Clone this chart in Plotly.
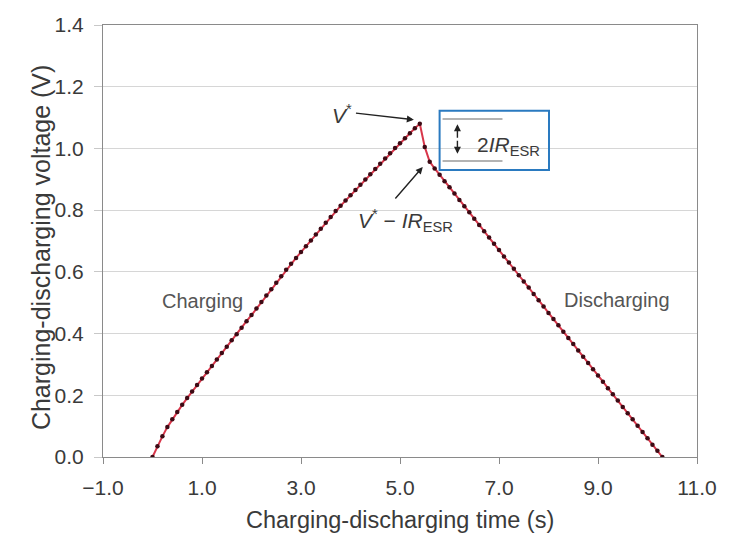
import plotly.graph_objects as go

# time (s), 0.1 s sampling
time_s = [0.0, 0.1, 0.2, 0.3, 0.4, 0.5, 0.6, 0.7, 0.8, 0.9,
          1.0, 1.1, 1.2, 1.3, 1.4, 1.5, 1.6, 1.7, 1.8, 1.9,
          2.0, 2.1, 2.2, 2.3, 2.4, 2.5, 2.6, 2.7, 2.8, 2.9,
          3.0, 3.1, 3.2, 3.3, 3.4, 3.5, 3.6, 3.7, 3.8, 3.9,
          4.0, 4.1, 4.2, 4.3, 4.4, 4.5, 4.6, 4.7, 4.8, 4.9,
          5.0, 5.1, 5.2, 5.3, 5.4, 5.5, 5.6, 5.7, 5.8, 5.9,
          6.0, 6.1, 6.2, 6.3, 6.4, 6.5, 6.6, 6.7, 6.8, 6.9,
          7.0, 7.1, 7.2, 7.3, 7.4, 7.5, 7.6, 7.7, 7.8, 7.9,
          8.0, 8.1, 8.2, 8.3, 8.4, 8.5, 8.6, 8.7, 8.8, 8.9,
          9.0, 9.1, 9.2, 9.3, 9.4, 9.5, 9.6, 9.7, 9.8, 9.9,
          10.0, 10.1, 10.2, 10.3]

# voltage (V)
voltage_v = [0.000, 0.035, 0.067, 0.097, 0.122, 0.146, 0.169, 0.191, 0.212, 0.233,
             0.254, 0.275, 0.295, 0.316, 0.337, 0.357, 0.378, 0.398, 0.419, 0.440,
             0.460, 0.481, 0.502, 0.523, 0.544, 0.565, 0.586, 0.607, 0.626, 0.645,
             0.664, 0.683, 0.702, 0.721, 0.740, 0.759, 0.778, 0.797, 0.814, 0.831,
             0.848, 0.865, 0.882, 0.899, 0.916, 0.933, 0.950, 0.967, 0.984, 1.001,
             1.017, 1.033, 1.049, 1.065, 1.080, 1.005, 0.957, 0.935, 0.915, 0.894,
             0.874, 0.854, 0.833, 0.813, 0.793, 0.772, 0.752, 0.732, 0.711, 0.691,
             0.671, 0.650, 0.630, 0.610, 0.589, 0.569, 0.549, 0.528, 0.508, 0.488,
             0.467, 0.447, 0.427, 0.406, 0.386, 0.366, 0.345, 0.325, 0.305, 0.284,
             0.264, 0.244, 0.223, 0.203, 0.183, 0.162, 0.142, 0.122, 0.101, 0.081,
             0.061, 0.040, 0.020, 0.000]

x_ticks = [-1.0, 1.0, 3.0, 5.0, 7.0, 9.0, 11.0]
y_ticks = [0.0, 0.2, 0.4, 0.6, 0.8, 1.0, 1.2, 1.4]

FONT = "Liberation Sans, Arial, sans-serif"
TXT = "#3a3a3a"
AX = "#8a8a8a"

fig = go.Figure()
fig.add_trace(go.Scatter(
    x=time_s, y=voltage_v, mode="lines+markers",
    line=dict(color="#d8364a", width=2),
    marker=dict(color="#3d0a14", size=4.5, symbol="circle"),
    showlegend=False, hoverinfo="skip"))

# annotation box and its contents
fig.add_shape(type="rect", x0=5.80, x1=8.01, y0=0.930, y1=1.122,
              line=dict(color="#2a7ac0", width=2), fillcolor="rgba(0,0,0,0)")
fig.add_shape(type="line", x0=5.86, x1=7.07, y0=1.095, y1=1.095,
              line=dict(color="#9a9a9a", width=1.5))
fig.add_shape(type="line", x0=5.86, x1=7.07, y0=0.959, y1=0.959,
              line=dict(color="#9a9a9a", width=1.5))

annots = [
    dict(x=7.19, y=1.008, text="2<i>IR</i><sub>ESR</sub>", showarrow=False,
         font=dict(size=21, color=TXT, family=FONT)),
    # double-headed vertical arrow
    dict(x=6.16, y=1.078, ax=6.16, ay=1.030, xref="x", yref="y", axref="x", ayref="y",
         text="", showarrow=True, arrowhead=2, arrowsize=1, arrowwidth=1.4, arrowcolor="#222"),
    dict(x=6.16, y=0.983, ax=6.16, ay=1.030, xref="x", yref="y", axref="x", ayref="y",
         text="", showarrow=True, arrowhead=2, arrowsize=1, arrowwidth=1.4, arrowcolor="#222"),
    dict(x=3.82, y=1.112, text="<i>V</i><sup>*</sup>", showarrow=False,
         font=dict(size=21, color=TXT, family=FONT)),
    dict(x=5.28, y=1.093, ax=4.08, ay=1.115, xref="x", yref="y", axref="x", ayref="y",
         text="", showarrow=True, arrowhead=2, arrowsize=1, arrowwidth=1.4, arrowcolor="#222"),
    dict(x=5.12, y=0.768, text="<i>V</i><sup>*</sup> \u2212 <i>IR</i><sub>ESR</sub>", showarrow=False,
         font=dict(size=21, color=TXT, family=FONT)),
    dict(x=5.46, y=0.940, ax=4.88, ay=0.833, xref="x", yref="y", axref="x", ayref="y",
         text="", showarrow=True, arrowhead=2, arrowsize=1, arrowwidth=1.4, arrowcolor="#222"),
    dict(x=1.01, y=0.505, text="Charging", showarrow=False,
         font=dict(size=20, color="#555", family=FONT)),
    dict(x=9.38, y=0.509, text="Discharging", showarrow=False,
         font=dict(size=20, color="#555", family=FONT)),
    dict(x=0.5, y=-0.146, xref="paper", yref="paper", text="Charging-discharging time (s)",
         showarrow=False, font=dict(size=23.5, color=TXT, family=FONT), yanchor="middle"),
    dict(x=-0.131, y=0.484, xref="paper", yref="paper", text="Charging-discharging voltage (V)",
         showarrow=False, textangle=-90, font=dict(size=25, color=TXT, family=FONT)),
]
for a in annots:
    fig.add_annotation(**a)

fig.update_layout(
    width=729, height=533,
    margin=dict(l=103, r=24, t=25, b=76),
    paper_bgcolor="white", plot_bgcolor="white",
    font=dict(family=FONT, color=TXT, size=20),
)
fig.update_xaxes(
    range=[-1.0, 11.0], tickvals=x_ticks, tickformat=".1f",
    showgrid=False, zeroline=False, showline=True, linecolor=AX, linewidth=1.2,
    mirror=True, ticks="outside", ticklen=6, tickcolor=AX, ticklabelstandoff=6,
    tickfont=dict(size=21, color=TXT, family=FONT))
fig.update_yaxes(
    range=[0.0, 1.4], tickvals=y_ticks, tickformat=".1f",
    showgrid=True, gridcolor="#d6d6d6", gridwidth=1, zeroline=False,
    showline=True, linecolor=AX, linewidth=1.2, mirror=True,
    ticks="outside", ticklen=8, tickcolor="#c8c8c8", ticklabelstandoff=6,
    tickfont=dict(size=21, color=TXT, family=FONT))

fig.write_html("out.html")
